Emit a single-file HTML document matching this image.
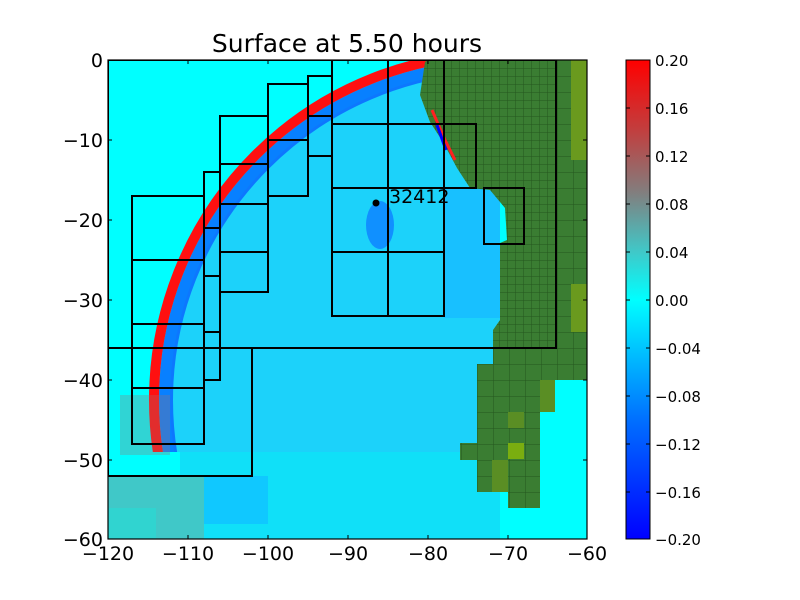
<!DOCTYPE html>
<html><head><meta charset="utf-8"><style>
html,body{margin:0;padding:0;background:#fff;overflow:hidden;width:800px;height:600px;}
svg{display:block;font-family:"DejaVu Sans","Liberation Sans",sans-serif;}
</style></head><body>
<svg width="800" height="600" viewBox="0 0 800 600" xmlns="http://www.w3.org/2000/svg">
<defs>
<clipPath id="plot"><rect x="108" y="60" width="479" height="479"/></clipPath>
<clipPath id="arcclip"><rect x="108" y="60" width="322" height="392"/></clipPath>
<clipPath id="inclip"><rect x="108" y="60" width="392" height="392"/></clipPath>
<pattern id="fine" x="443" y="60" width="8" height="8" patternUnits="userSpaceOnUse">
<rect width="8" height="8" fill="#3a7d32"/><path d="M0 0H8M0 0V8" stroke="#24561e" stroke-width="1"/></pattern>
<pattern id="coarse" x="477" y="60" width="16" height="16" patternUnits="userSpaceOnUse">
<rect width="16" height="16" fill="#3a7d32"/><path d="M0 0H16M0 0V16" stroke="#24561e" stroke-width="1"/></pattern>
<linearGradient id="cb" x1="0" y1="1" x2="0" y2="0">
<stop offset="0" stop-color="#0000ff"/><stop offset="0.25" stop-color="#0070ff"/>
<stop offset="0.5" stop-color="#00ffff"/><stop offset="0.6" stop-color="#40c8c8"/>
<stop offset="0.72" stop-color="#808080"/><stop offset="0.85" stop-color="#c04040"/>
<stop offset="1" stop-color="#ff0000"/></linearGradient>
</defs>
<rect width="800" height="600" fill="#fff"/>
<g clip-path="url(#plot)">
<rect x="108" y="60" width="479" height="479" fill="#00ffff"/>
<g clip-path="url(#inclip)"><circle cx="500" cy="400" r="330" fill="#1cd2fa"/></g>
<rect x="180" y="452" width="320" height="88" fill="#10e0f8"/>
<rect x="108" y="476" width="96" height="63" fill="#40c8c8"/>
<rect x="108" y="508" width="48" height="31" fill="#30d4d0"/>
<rect x="204" y="476" width="64" height="48" fill="#10c8ff"/>
<rect x="444" y="188" width="56" height="130" fill="#18c0ff"/>
<ellipse cx="380" cy="225" rx="14" ry="24" fill="#1090ff"/>
<!-- wave -->
<g clip-path="url(#arcclip)">
<circle cx="500" cy="400" r="334" fill="none" stroke="#0a60ff" stroke-width="14" opacity="0.8"/>
<circle cx="500" cy="400" r="346" fill="none" stroke="#ff1010" stroke-width="10"/>
</g>
<rect x="120" y="395" width="50" height="60" fill="#a07070" opacity="0.3"/>
<!-- land -->
<polygon points="428,60 587,60 587,348 493,348 493,330 500,320 500,243 507,240 505,208 490,190 470,188 457,168 443,142 430,122 420,95 425,62" fill="url(#fine)"/>
<rect x="555" y="60" width="32" height="290" fill="url(#coarse)"/>
<rect x="571" y="60" width="16" height="100" fill="#6a9a1e"/>
<rect x="571" y="284" width="16" height="48" fill="#6a9a1e"/>
<path d="M493 348H587V380H555V412H540V508H508V492H477V460H460V443H477V364H493Z" fill="url(#coarse)"/>
<rect x="540" y="380" width="15" height="32" fill="#5a8e24"/>
<rect x="508" y="412" width="16" height="16" fill="#5a8e24"/>
<rect x="508" y="443" width="16" height="16" fill="#7aae10"/>
<rect x="492" y="460" width="16" height="32" fill="#5a8e24"/>
<path d="M432 110L445 140L455 160" stroke="#ff2020" stroke-width="3" fill="none"/>
<path d="M437 125L446 150" stroke="#0000ff" stroke-width="3" fill="none"/>
<!-- boxes -->
<g fill="none" stroke="#000" stroke-width="2">
<rect x="108" y="60" width="448" height="288"/>
<rect x="108" y="348" width="144" height="128"/>
<rect x="132" y="196" width="72" height="248"/>
<path d="M132 260H204M132 324H204M132 388H204"/>
<rect x="204" y="172" width="16" height="208"/>
<path d="M204 228H220M204 276H220M204 332H220"/>
<rect x="220" y="116" width="48" height="176"/>
<path d="M220 164H268M220 204H268M220 252H268"/>
<rect x="268" y="84" width="40" height="112"/>
<path d="M268 140H308"/>
<rect x="308" y="76" width="24" height="80"/>
<path d="M308 116H332"/>
<path d="M332 60V316H444V60M388 60V316M332 124H476V188H332M332 252H444M332 188H444"/>
<rect x="484" y="188" width="40" height="56"/>
</g>
<circle cx="376" cy="203" r="3.5" fill="#000"/>
<text x="389" y="203" font-size="19" fill="#000">32412</text>
</g>
<rect x="108" y="60" width="479" height="479" fill="none" stroke="#000" stroke-width="1.2"/>
<g stroke="#000" stroke-width="1">
<path d="M188 539v-4M268 539v-4M348 539v-4M428 539v-4M508 539v-4M188 60v4M268 60v4M348 60v4M428 60v4M508 60v4"/>
<path d="M108 140h4M108 220h4M108 300h4M108 380h4M108 460h4M587 140h-4M587 220h-4M587 300h-4M587 380h-4M587 460h-4"/>
</g>
<g font-size="19" fill="#000" text-anchor="middle">
<text x="108" y="560">−120</text><text x="188" y="560">−110</text><text x="268" y="560">−100</text>
<text x="348" y="560">−90</text><text x="428" y="560">−80</text><text x="508" y="560">−70</text><text x="587" y="560">−60</text>
</g>
<g font-size="19" fill="#000" text-anchor="end">
<text x="103" y="67">0</text><text x="103" y="147">−10</text><text x="103" y="227">−20</text>
<text x="103" y="307">−30</text><text x="103" y="387">−40</text><text x="103" y="467">−50</text><text x="103" y="546">−60</text>
</g>
<text x="347" y="52" font-size="25" text-anchor="middle" fill="#000">Surface at 5.50 hours</text>
<rect x="626" y="60" width="24" height="479" fill="url(#cb)" stroke="#000" stroke-width="1"/>
<g stroke="#000" stroke-width="1">
<path d="M626 108h4M626 156h4M626 204h4M626 252h4M626 300h4M626 348h4M626 396h4M626 444h4M626 492h4"/>
<path d="M650 108h-4M650 156h-4M650 204h-4M650 252h-4M650 300h-4M650 348h-4M650 396h-4M650 444h-4M650 492h-4"/>
</g>
<g font-size="15" fill="#000">
<text x="655" y="66">0.20</text><text x="655" y="114">0.16</text><text x="655" y="162">0.12</text>
<text x="655" y="210">0.08</text><text x="655" y="258">0.04</text><text x="655" y="306">0.00</text>
<text x="655" y="354">−0.04</text><text x="655" y="402">−0.08</text><text x="655" y="450">−0.12</text>
<text x="655" y="498">−0.16</text><text x="655" y="545">−0.20</text>
</g>
</svg>
</body></html>
